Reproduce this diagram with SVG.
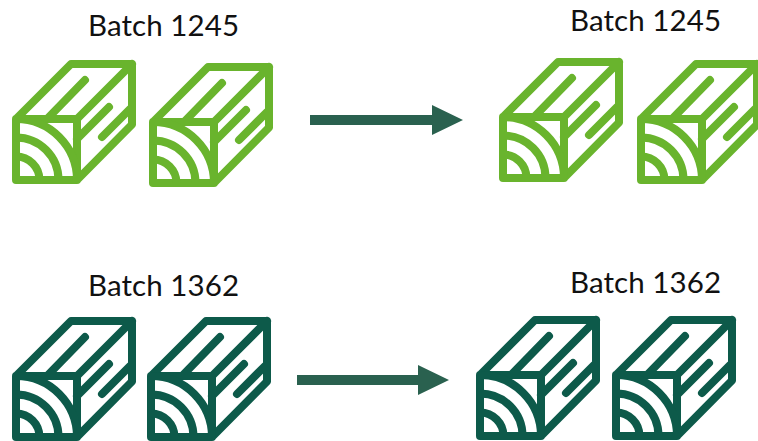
<svg xmlns="http://www.w3.org/2000/svg" width="758" height="441" viewBox="0 0 758 441">
<style>
.t{font-family:"Lato","Liberation Sans",sans-serif;font-size:29.500px;fill:#111}
.i{fill:none;stroke-width:8;stroke-linejoin:round;stroke-linecap:round}
.g{stroke:#69b42d}
.d{stroke:#0d5a4a}
.a{fill:#2a614f}
</style>
<defs>
<g id="log">
<path d="M16 119L71 64H132V124.500L77 180H16ZM16 119H77V180M77 119L132 64M47 119L85 80M77 139L109 107M102 137L130 109"/>
<path stroke-linecap="butt" d="M16 119A61 61 0 0 1 77 180M16 137.500A42.500 42.500 0 0 1 58.500 180M16 156.500A23.500 23.500 0 0 1 39.500 180"/>
</g>
</defs>
<g id="connectors">
<path class="a" d="M310 115H432V105L463 120L432 135V125H310Z"/>
<path class="a" d="M297 375H418V365L449 380L418 395V385H297Z"/>
</g>
<g id="n1"><use href="#log" class="i g" x="0" y="0"/></g>
<g id="n2"><use href="#log" class="i g" x="137" y="3"/></g>
<g id="n3"><use href="#log" class="i g" x="487" y="-2"/></g>
<g id="n4"><use href="#log" class="i g" x="625" y="0"/></g>
<g id="n5"><use href="#log" class="i d" x="0" y="257"/></g>
<g id="n6"><use href="#log" class="i d" x="135" y="257"/></g>
<g id="n7"><use href="#log" class="i d" x="464" y="256"/></g>
<g id="n8"><use href="#log" class="i d" x="600" y="256"/></g>
<text class="t" x="88" y="36" textLength="151">Batch 1245</text>
<text class="t" x="570" y="31" textLength="151">Batch 1245</text>
<text class="t" x="88" y="296" textLength="151">Batch 1362</text>
<text class="t" x="570" y="293" textLength="151">Batch 1362</text>
</svg>
